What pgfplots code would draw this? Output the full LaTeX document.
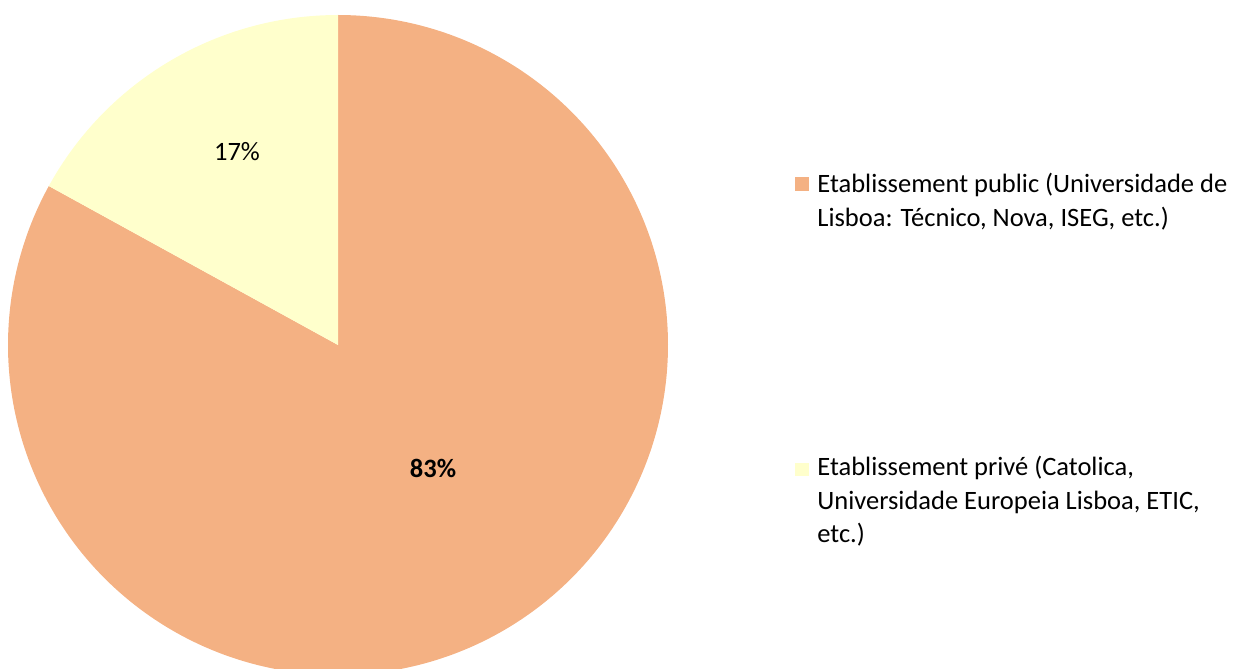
\documentclass[border=0pt]{standalone}
\usepackage{pgfplots}
\usepackage{pgfplotstable}
\pgfplotsset{compat=1.18}
\usepackage{fontspec}
\setmainfont{Carlito}
\definecolor{pubcol}{HTML}{F4B183}
\definecolor{privcol}{HTML}{FFFFCC}
\pgfplotstableread{
share
83
17
}\datatable
\begin{document}
\fontsize{13.25}{16.6}\selectfont
\begin{tikzpicture}
\pgfplotstablegetelem{0}{share}\of\datatable \let\pub\pgfplotsretval
\pgfplotstablegetelem{1}{share}\of\datatable \let\priv\pgfplotsretval
\pgfmathsetmacro{\total}{\pub+\priv}
\pgfmathsetmacro{\frac}{\pub/\total}
\pgfmathsetmacro{\splitang}{90-360*\frac}
\pgfmathsetmacro{\splitangb}{\splitang+360}
\begin{axis}[x=0.5pt,y=0.5pt,xmin=0,xmax=1248,ymin=0,ymax=669,
  hide axis, clip=true, scale only axis]
\addplot[fill=pubcol, draw=none, domain=\splitang:90, samples=300, variable=\t]
  ({338+330*cos(\t)},{324+330*sin(\t)}) -- (axis cs:338,324) -- cycle;
\addplot[fill=privcol, draw=none, domain=90:\splitangb, samples=80, variable=\t]
  ({338+330*cos(\t)},{324+330*sin(\t)}) -- (axis cs:338,324) -- cycle;
\node at (axis cs:237,517) {17\%};
\node[font=\bfseries] at (axis cs:433,201) {83\%};
\fill[pubcol] (axis cs:795,492) rectangle (axis cs:809,478);
\fill[privcol] (axis cs:795,206) rectangle (axis cs:809,193);
\node[anchor=base west, inner sep=0pt] at (axis cs:817,476)
  {\begin{tabular}[t]{@{}l@{}}Etablissement public (Universidade de\\Lisboa: Técnico, Nova, ISEG, etc.)\end{tabular}};
\node[anchor=base west, inner sep=0pt] at (axis cs:817,193)
  {\begin{tabular}[t]{@{}l@{}}Etablissement privé (Catolica,\\Universidade Europeia Lisboa, ETIC,\\etc.)\end{tabular}};
\coordinate (SW) at (axis cs:0,0);
\coordinate (NE) at (axis cs:1248,669);
\end{axis}
\pgfresetboundingbox
\path (SW) rectangle (NE);
\end{tikzpicture}
\end{document}
